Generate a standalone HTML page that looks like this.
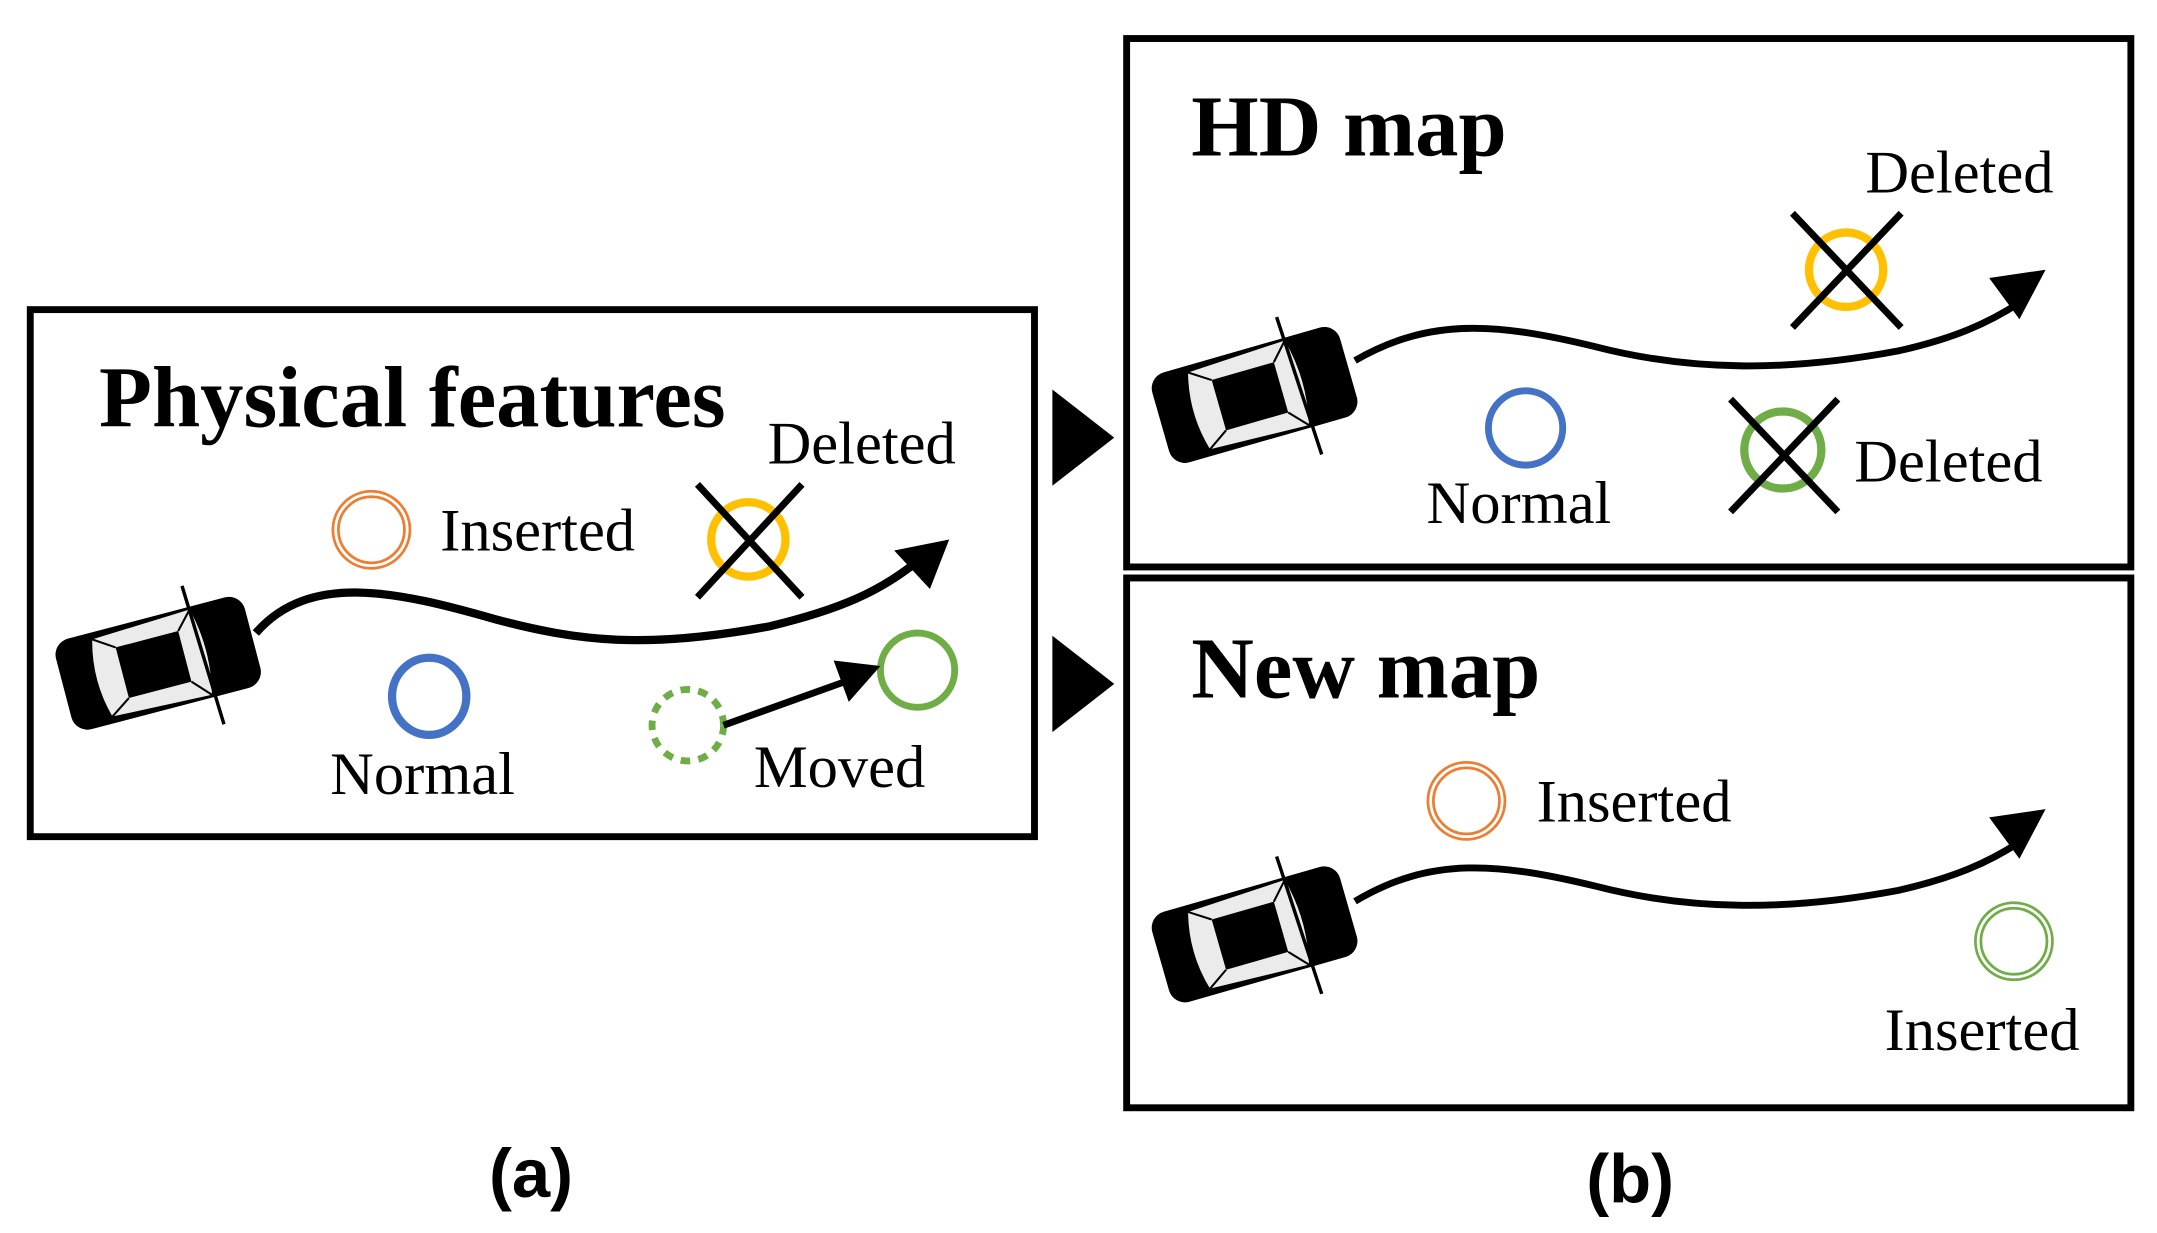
<!DOCTYPE html>
<html><head><meta charset="utf-8"><style>
html,body{margin:0;padding:0;background:#fff;}
svg{display:block;}
.t{font-family:"Liberation Serif",serif;font-size:44px;fill:#000;}
.h{font-family:"Liberation Serif",serif;font-size:63px;font-weight:bold;fill:#000;}
.l{font-family:"Liberation Sans",sans-serif;font-size:50px;font-weight:bold;fill:#000;}
</style></head><body>
<svg width="2157" height="1233" viewBox="0 0 1568 896" preserveAspectRatio="none" xmlns="http://www.w3.org/2000/svg">
<defs>
<g id="car">
  <rect x="-71" y="-34" width="142" height="68" rx="12" fill="#000"/>
  <path d="M-42,-29 L32,-32 Q40,0 32,32 L-42,29 Q-50,0 -42,-29 Z" fill="#ebebeb"/>
  <path d="M-27,-19 L20,-19 L20,19 L-27,19 Z" fill="#000"/>
  <line x1="-42" y1="-29" x2="-27" y2="-19" stroke="#000" stroke-width="1.5"/>
  <line x1="32" y1="-32" x2="20" y2="-19" stroke="#000" stroke-width="1.5"/>
  <line x1="32" y1="32" x2="20" y2="19" stroke="#000" stroke-width="1.5"/>
  <line x1="-42" y1="29" x2="-27" y2="19" stroke="#000" stroke-width="1.5"/>
  <line x1="31" y1="-50" x2="35" y2="55" stroke="#000" stroke-width="2.5"/>
</g>
</defs>

<rect x="22" y="225" width="730" height="383" fill="none" stroke="#000" stroke-width="5"/>
<text class="h" x="72" y="310">Physical features</text>
<path d="M186,460 C225,415 290,430 360,450 C420,466 470,472 560,455 C610,443 640,430 668,407" fill="none" stroke="#000" stroke-width="6"/>
<polygon points="690,392 650,400 676,428" fill="#000"/>
<g transform="translate(115,482) rotate(-14.7)"><use href="#car"/></g>
<circle cx="270" cy="385" r="28" fill="none" stroke="#ed7d31" stroke-width="2"/>
<circle cx="270" cy="385" r="24" fill="none" stroke="#ed7d31" stroke-width="2"/>
<text class="t" x="320" y="400">Inserted</text>
<circle cx="544" cy="392" r="27" fill="none" stroke="#ffc000" stroke-width="6"/>
<line x1="507" y1="352" x2="583" y2="434" stroke="#000" stroke-width="5"/>
<line x1="583" y1="352" x2="507" y2="434" stroke="#000" stroke-width="5"/>
<text class="t" x="558" y="337">Deleted</text>
<ellipse cx="312" cy="506" rx="27" ry="28" fill="none" stroke="#4472c4" stroke-width="6"/>
<text class="t" x="240" y="577">Normal</text>
<circle cx="500" cy="527" r="26" fill="none" stroke="#70ad47" stroke-width="5" stroke-dasharray="7,6"/>
<circle cx="667" cy="487" r="27" fill="none" stroke="#70ad47" stroke-width="5"/>
<line x1="526" y1="527" x2="618" y2="494" stroke="#000" stroke-width="5"/>
<polygon points="640,484 606,480 617,510" fill="#000"/>
<text class="t" x="548" y="572">Moved</text>

<polygon points="765,283 810,318 765,353" fill="#000"/>
<polygon points="765,462 810,497 765,532" fill="#000"/>

<rect x="819" y="28" width="730" height="384" fill="none" stroke="#000" stroke-width="5"/>
<text class="h" x="866" y="113">HD map</text>
<path d="M985,262 C1040,230 1090,235 1160,252 C1230,270 1300,270 1380,255 C1420,246 1445,235 1468,220" fill="none" stroke="#000" stroke-width="5"/>
<polygon points="1487,196 1446,202 1468,232" fill="#000"/>
<g transform="translate(912,287) rotate(-16)"><use href="#car"/></g>
<circle cx="1342" cy="196" r="27" fill="none" stroke="#ffc000" stroke-width="6"/>
<line x1="1303" y1="155" x2="1382" y2="238" stroke="#000" stroke-width="5"/>
<line x1="1382" y1="155" x2="1303" y2="238" stroke="#000" stroke-width="5"/>
<text class="t" x="1356" y="140">Deleted</text>
<circle cx="1109" cy="311" r="27" fill="none" stroke="#4472c4" stroke-width="5"/>
<text class="t" x="1037" y="380">Normal</text>
<circle cx="1296" cy="327" r="28" fill="none" stroke="#70ad47" stroke-width="6"/>
<line x1="1258" y1="290" x2="1336" y2="372" stroke="#000" stroke-width="5"/>
<line x1="1336" y1="290" x2="1258" y2="372" stroke="#000" stroke-width="5"/>
<text class="t" x="1348" y="350">Deleted</text>

<rect x="819" y="420" width="730" height="385" fill="none" stroke="#000" stroke-width="5"/>
<text class="h" x="866" y="507">New map</text>
<path d="M985,655 C1040,622 1090,627 1160,644 C1230,662 1300,662 1380,647 C1420,638 1445,627 1468,612" fill="none" stroke="#000" stroke-width="5"/>
<polygon points="1487,588 1446,594 1468,624" fill="#000"/>
<g transform="translate(912,679) rotate(-16)"><use href="#car"/></g>
<circle cx="1066" cy="582" r="28" fill="none" stroke="#ed7d31" stroke-width="2"/>
<circle cx="1066" cy="582" r="24" fill="none" stroke="#ed7d31" stroke-width="2"/>
<text class="t" x="1117" y="597">Inserted</text>
<circle cx="1464" cy="684" r="28" fill="none" stroke="#70ad47" stroke-width="2"/>
<circle cx="1464" cy="684" r="24" fill="none" stroke="#70ad47" stroke-width="2"/>
<text class="t" x="1370" y="763">Inserted</text>

<text class="l" x="386" y="870" text-anchor="middle">(a)</text>
<text class="l" x="1185" y="874" text-anchor="middle">(b)</text>
</svg>
</body></html>
